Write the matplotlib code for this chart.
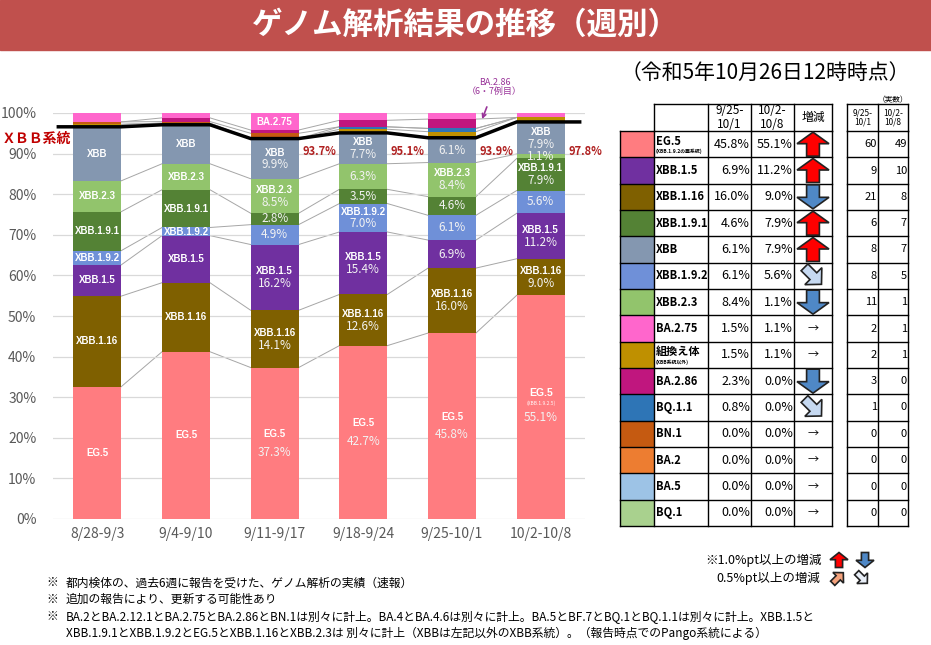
import matplotlib
matplotlib.use('Agg')
import matplotlib.pyplot as plt
from matplotlib.patches import Rectangle, Polygon
import numpy as np

plt.rcParams['font.family'] = ['Noto Sans CJK JP', 'DejaVu Sans']

weeks = ['8/28-9/3', '9/4-9/10', '9/11-9/17', '9/18-9/24', '9/25-10/1', '10/2-10/8']

# stacked bottom -> top (percent of analysed samples)
stack_names = ['EG.5', 'XBB.1.16', 'XBB.1.5', 'XBB.1.9.2', 'XBB.1.9.1', 'XBB.2.3', 'XBB',
               '組換え体', 'BQ.1.1', 'BN.1', 'BA.2.86', 'BA.2.75']
eg5 = [32.6, 41.2, 37.3, 42.7, 45.8, 55.1]
xbb_1_16 = [22.3, 17.0, 14.1, 12.6, 16.0, 9.0]
xbb_1_5 = [7.7, 11.6, 16.2, 15.4, 6.9, 11.2]
xbb_1_9_2 = [3.5, 2.0, 4.9, 7.0, 6.1, 5.6]
xbb_1_9_1 = [9.6, 9.3, 2.8, 3.5, 4.6, 7.9]
xbb_2_3 = [7.6, 6.4, 8.5, 6.3, 8.4, 1.1]
xbb = [13.3, 9.6, 9.9, 7.7, 6.1, 7.9]
recomb = [0.6, 0.4, 0.0, 0.8, 1.5, 1.1]
bq_1_1 = [0.0, 0.0, 0.0, 0.6, 0.8, 0.0]
bn_1 = [0.6, 0.4, 1.3, 0.0, 0.0, 0.0]
ba_2_86 = [0.0, 0.9, 0.8, 1.6, 2.3, 0.0]
ba_2_75 = [2.2, 1.2, 4.2, 1.8, 1.5, 1.1]
stack_vals = [eg5, xbb_1_16, xbb_1_5, xbb_1_9_2, xbb_1_9_1, xbb_2_3, xbb,
              recomb, bq_1_1, bn_1, ba_2_86, ba_2_75]

# XBB lineage total (black line)
xbb_line = [96.6, 97.1, 93.7, 95.1, 93.9, 97.8]
xbb_line_shown = [False, False, True, True, True, True]

# label mode inside each segment: n = name, p = percent, np = both
seg_label = {
    'EG.5': ['n', 'n', 'np', 'np', 'np', 'np'],
    'XBB.1.16': ['n', 'n', 'np', 'np', 'np', 'np'],
    'XBB.1.5': ['n', 'n', 'np', 'np', 'p', 'np'],
    'XBB.1.9.2': ['n', 'n', 'p', 'np', 'p', 'p'],
    'XBB.1.9.1': ['n', 'n', 'p', 'p', 'p', 'np'],
    'XBB.2.3': ['n', 'n', 'np', 'p', 'np', 'p'],
    'XBB': ['n', 'n', 'np', 'np', 'p', 'np'],
    'BA.2.75': ['', '', 'n', '', '', ''],
}

colors = {
    'EG.5': '#ff7c80', 'XBB.1.5': '#7030a0', 'XBB.1.16': '#7f6000',
    'XBB.1.9.1': '#548235', 'XBB': '#8497b0', 'XBB.1.9.2': '#6f90d8',
    'XBB.2.3': '#92c46c', 'BA.2.75': '#ff66cc', '組換え体': '#bf9000',
    'BA.2.86': '#c0167e', 'BQ.1.1': '#2e75b6', 'BN.1': '#c55a11',
    'BA.2': '#ed7d31', 'BA.5': '#9dc3e6', 'BQ.1': '#a9d18e',
}

# table (last two weeks)
tbl_names = ['EG.5', 'XBB.1.5', 'XBB.1.16', 'XBB.1.9.1', 'XBB', 'XBB.1.9.2', 'XBB.2.3',
             'BA.2.75', '組換え体', 'BA.2.86', 'BQ.1.1', 'BN.1', 'BA.2', 'BA.5', 'BQ.1']
tbl_notes = {'EG.5': '(XBB.1.9.2の亜系統)', '組換え体': '(XBB系統以外)'}
pct_prev = [45.8, 6.9, 16.0, 4.6, 6.1, 6.1, 8.4, 1.5, 1.5, 2.3, 0.8, 0.0, 0.0, 0.0, 0.0]
pct_cur = [55.1, 11.2, 9.0, 7.9, 7.9, 5.6, 1.1, 1.1, 1.1, 0.0, 0.0, 0.0, 0.0, 0.0, 0.0]
cnt_prev = [60, 9, 21, 6, 8, 8, 11, 2, 2, 3, 1, 0, 0, 0, 0]
cnt_cur = [49, 10, 8, 7, 7, 5, 1, 1, 1, 0, 0, 0, 0, 0, 0]
tbl_head = ['9/25-\n10/1', '10/2-\n10/8', '増減']

title = 'ゲノム解析結果の推移（週別）'
subtitle = '（令和5年10月26日12時時点）'
notes = ['都内検体の、過去6週に報告を受けた、ゲノム解析の実績（速報）',
         '追加の報告により、更新する可能性あり',
         'BA.2とBA.2.12.1とBA.2.75とBA.2.86とBN.1は別々に計上。BA.4とBA.4.6は別々に計上。BA.5とBF.7とBQ.1とBQ.1.1は別々に計上。XBB.1.5と',
         'XBB.1.9.1とXBB.1.9.2とEG.5とXBB.1.16とXBB.2.3は 別々に計上（XBBは左記以外のXBB系統）。（報告時点でのPango系統による）']

W, H = 931, 645
fig = plt.figure(figsize=(W / 100, H / 100), dpi=100)

# overlay in pixel coordinates
ov = fig.add_axes([0, 0, 1, 1], zorder=0)
ov.set_xlim(0, W)
ov.set_ylim(H, 0)
ov.axis('off')


def arrow(cx, cy, w, h, ang, fc):
    pts = np.array([[-0.2, -0.5], [0.2, -0.5], [0.2, 0.02], [0.5, 0.02],
                    [0, 0.5], [-0.5, 0.02], [-0.2, 0.02]]) * [w, h]
    t = np.radians(ang)
    R = np.array([[np.cos(t), -np.sin(t)], [np.sin(t), np.cos(t)]])
    pts = pts @ R.T
    pts[:, 0] += cx
    pts[:, 1] = cy - pts[:, 1]
    ov.add_patch(Polygon(pts, closed=True, fc=fc, ec='#222222', lw=1.2, zorder=5))


ov.add_patch(Rectangle((0, 0), W, 50, color='#c0504d'))
ov.text(W / 2, 25, title, color='white', fontsize=22, fontweight='bold', ha='center', va='center')
ov.text(765, 73, subtitle, fontsize=15, ha='center', va='center')
ov.text(36, 139, 'ＸＢＢ系統', color='#c00000', fontsize=10, fontweight='bold',
        ha='center', va='center')

# ---- table ----
xc = [620, 654, 708, 751, 794, 832]
xn = [847, 878, 908]
head_top, top_y = 104, 131
row_h = (526 - top_y) / len(tbl_names)
lk = dict(color='black', lw=1.0, zorder=4)
# header
for k, txt in enumerate(tbl_head):
    ov.text((xc[k + 2] + xc[k + 3]) / 2, (head_top + top_y) / 2, txt, fontsize=8.5,
            ha='center', va='center', linespacing=1.1)
for k, txt in enumerate(tbl_head[:2]):
    ov.text((xn[k] + xn[k + 1]) / 2, (head_top + top_y) / 2, txt, fontsize=6,
            ha='center', va='center', linespacing=1.1)
ov.text(893, 100, '（実数）', fontsize=5.5, ha='center', va='center')
ov.plot([xc[1], xc[-1]], [head_top, head_top], **lk)
ov.plot([xn[0], xn[-1]], [head_top, head_top], **lk)
for x in xc[1:]:
    ov.plot([x, x], [head_top, top_y], **lk)
for x in xn:
    ov.plot([x, x], [head_top, top_y], **lk)

for i, name in enumerate(tbl_names):
    y0 = top_y + i * row_h
    yc = y0 + row_h / 2
    ov.add_patch(Rectangle((xc[0], y0), xc[1] - xc[0], row_h, fc=colors[name], ec='none', zorder=3))
    ov.plot([xc[0], xc[-1]], [y0, y0], **lk)
    ov.plot([xn[0], xn[-1]], [y0, y0], **lk)
    if name in tbl_notes:
        ov.text(xc[1] + 2, yc - 3, name, fontsize=8, fontweight='bold', ha='left', va='center')
        ov.text(xc[1] + 2, yc + 7, tbl_notes[name], fontsize=3.5, fontweight='bold',
                ha='left', va='center')
    else:
        ov.text(xc[1] + 2, yc, name, fontsize=8, fontweight='bold', ha='left', va='center')
    ov.text(xc[3] - 1, yc, f'{pct_prev[i]:.1f}%', fontsize=9, ha='right', va='center')
    ov.text(xc[4] - 1, yc, f'{pct_cur[i]:.1f}%', fontsize=9, ha='right', va='center')
    ov.text(xn[1] - 1, yc, f'{cnt_prev[i]}', fontsize=8, ha='right', va='center')
    ov.text(xn[2] - 1, yc, f'{cnt_cur[i]}', fontsize=8, ha='right', va='center')
    tx = (xc[4] + xc[5]) / 2
    d = round(pct_cur[i] - pct_prev[i], 1)
    if d >= 1.0:
        arrow(tx, yc, 32, 24, 0, '#ff0000')
    elif d <= -1.0:
        arrow(tx, yc, 32, 24, 180, '#4f88c6')
    elif d >= 0.5:
        arrow(tx, yc, 24, 24, -45, '#f4a27c')
    elif d <= -0.5:
        arrow(tx, yc, 24, 24, -135, '#c6d9f1')
    else:
        ov.text(tx, yc, '→', fontsize=8, ha='center', va='center')

bot = top_y + len(tbl_names) * row_h
ov.plot([xc[0], xc[-1]], [bot, bot], **lk)
ov.plot([xn[0], xn[-1]], [bot, bot], **lk)
for x in xc:
    ov.plot([x, x], [top_y, bot], **lk)
for x in xn:
    ov.plot([x, x], [top_y, bot], **lk)

# arrow legend
ov.text(822, 560, '※1.0%pt以上の増減', fontsize=9, ha='right', va='center')
ov.text(820, 578, '0.5%pt以上の増減', fontsize=9, ha='right', va='center')
arrow(839, 560, 18, 15, 0, '#ff0000')
arrow(865, 560, 18, 15, 180, '#4f88c6')
arrow(838, 578, 15, 15, -45, '#f4a27c')
arrow(862, 578, 15, 15, -135, '#e8eef7')

# footnotes
for k, line in enumerate(notes):
    y = 583 + k * 16.7
    if k < 3:
        ov.text(46, y, '※', fontsize=8.5, ha='left', va='center')
    ov.text(66, y, line, fontsize=8.5, ha='left', va='center')

# ---- stacked bar chart ----
ax = fig.add_axes([53 / W, (H - 519) / H, (585 - 53) / W, (519 - 113) / H], zorder=1)
ax.patch.set_alpha(0)
x = np.arange(len(weeks))
bw = 0.54
bottom = np.zeros(len(weeks))
tops = []
for name, vals in zip(stack_names, stack_vals):
    vals = np.array(vals)
    ax.bar(x, vals, bw, bottom=bottom, color=colors[name], zorder=2)
    mode = seg_label.get(name, [''] * len(weeks))
    for i in range(len(weeks)):
        yc = bottom[i] + vals[i] / 2
        off = 2.2 if vals[i] > 30 else 1.5
        pct = f'{vals[i]:.1f}%'
        if name == 'EG.5' and i == len(weeks) - 1:
            ax.text(i, yc + 3.5, name, color='white', fontsize=7.5, fontweight='bold',
                    family=['Liberation Sans'], ha='center', va='center', zorder=4)
            ax.text(i, yc + 1.0, '(XBB.1.9.2.5)', color='white', fontsize=3.5,
                    ha='center', va='center', zorder=4)
            ax.text(i, yc - 2.5, pct, color='#f2f2f2', fontsize=8.5, ha='center',
                    va='center', zorder=4)
        elif mode[i] == 'n':
            ax.text(i, yc, name, color='white', fontsize=7, fontweight='bold',
                    family=['Liberation Sans'], ha='center', va='center', zorder=4)
        elif mode[i] == 'p':
            ax.text(i, yc, pct, color='#f2f2f2', fontsize=8.5, ha='center',
                    va='center', zorder=4)
        elif mode[i] == 'np':
            ax.text(i, yc + off, name, color='white', fontsize=7, fontweight='bold',
                    family=['Liberation Sans'], ha='center', va='center', zorder=4)
            ax.text(i, yc - off, pct, color='#f2f2f2', fontsize=8.5, ha='center',
                    va='center', zorder=4)
    bottom = bottom + vals
    tops.append(bottom.copy())

# connectors between bars
for t in tops[:-1]:
    for i in range(len(weeks) - 1):
        ax.plot([i + bw / 2, i + 1 - bw / 2], [t[i], t[i + 1]], color='#a6a6a6',
                lw=0.7, zorder=1.5)

# XBB lineage line
lx = [-bw / 2 - 0.17]
ly = [xbb_line[0]]
for i, v in enumerate(xbb_line):
    lx += [i - bw / 2, i + bw / 2]
    ly += [v, v]
lx.append(len(weeks) - 1 + bw / 2 + 0.17)
ly.append(xbb_line[-1])
ax.plot(lx, ly, color='black', lw=2.5, zorder=5, solid_joinstyle='miter')
for i, v in enumerate(xbb_line):
    if xbb_line_shown[i]:
        ax.text(i + 0.5, min(v - 2.5, 90.5), f'{v:.1f}%', color='#b02020', fontsize=8,
                fontweight='bold', ha='center', va='center', zorder=5)

ax.annotate('BA.2.86\n（6・7例目）', xy=(4.34, 98.5), xytext=(4.48, 106.4),
            color='#993399', fontsize=6.5, ha='center', va='center', linespacing=1.1,
            annotation_clip=False,
            arrowprops=dict(arrowstyle='->', color='#993399', lw=1.2, shrinkA=6, shrinkB=0))

ax.set_xlim(-0.5, len(weeks) - 0.5)
ax.set_ylim(0, 100)
ax.set_yticks(np.arange(0, 101, 10))
ax.set_yticklabels([f'{v}%' for v in range(0, 101, 10)])
ax.set_xticks(x)
ax.set_xticklabels(weeks)
ax.tick_params(length=0, labelsize=10, labelcolor='#595959')
ax.tick_params(axis='y', pad=12)
ax.tick_params(axis='x', pad=6)
ax.grid(axis='y', color='#d9d9d9', lw=0.9, zorder=0)
for s in ax.spines.values():
    s.set_visible(False)

fig.savefig('out.png', dpi=100)
